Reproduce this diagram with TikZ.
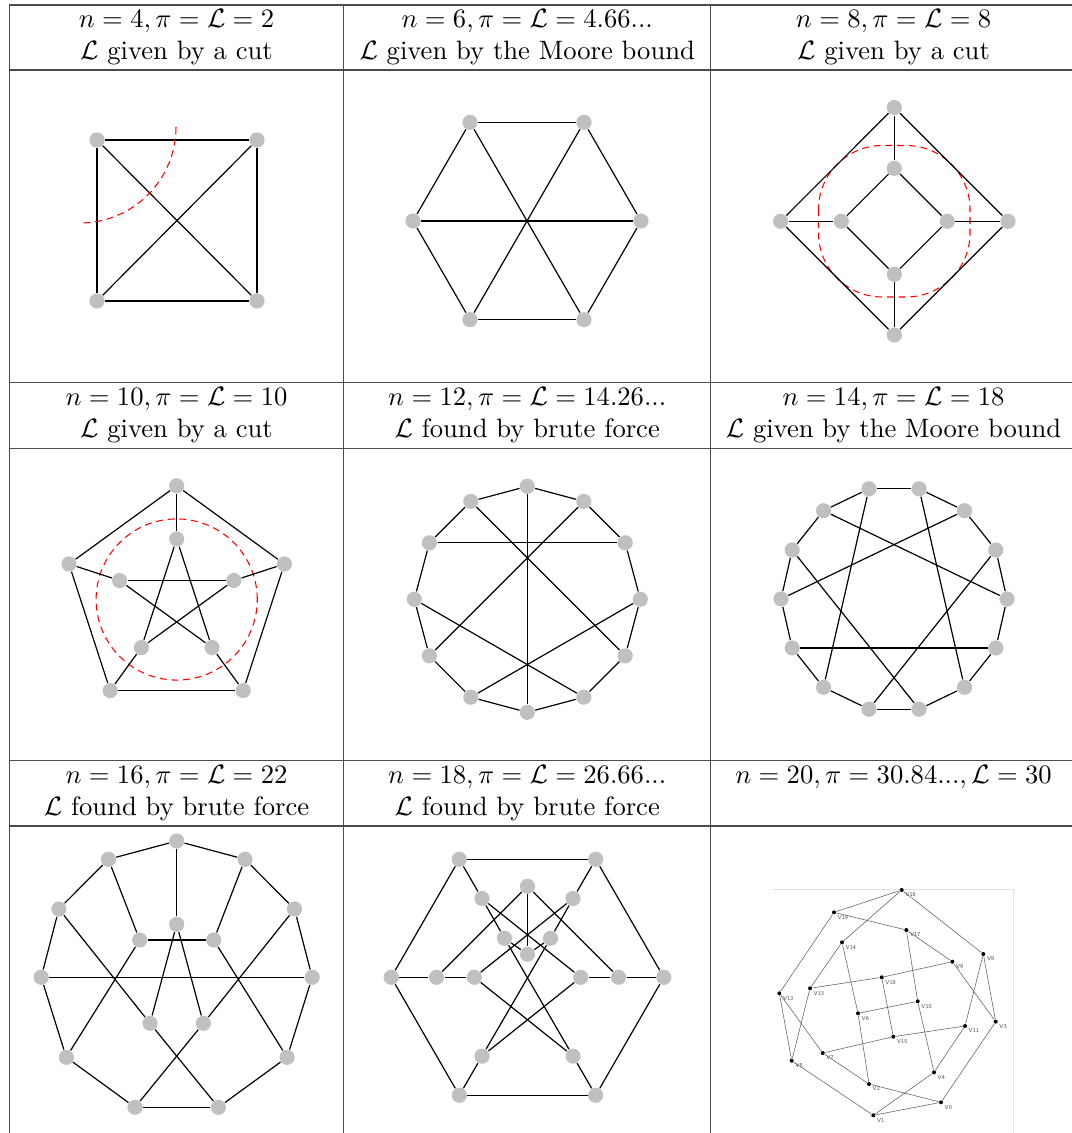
\documentclass[tikz,border=0pt]{standalone}
\usepackage{amsmath,amssymb}
\usepackage{tikz}

\begin{document}
\begin{tikzpicture}[x=0.376pt,y=-0.376pt,
  vtx/.style={circle,fill=vgray,inner sep=0pt,minimum size=5.7pt},
  edge/.style={line width=0.45pt},
  cutline/.style={red,dash pattern=on 2.6pt off 1.8pt,line width=0.4pt},
  rule/.style={black!70,line width=0.45pt},
  head/.style={anchor=base,inner sep=0pt},
  dot/.style={circle,fill=black,inner sep=0pt,minimum size=1.5pt},
  vlab/.style={font=\sffamily\fontsize{2.2}{2.4}\selectfont,text=black!70,inner sep=0pt},
  shotedge/.style={black!60,line width=0.22pt}]
\definecolor{vgray}{HTML}{C0C0C0}
\useasboundingbox (0,0) rectangle (1071,1133);
\foreach \y in {5,70,382.7,448.3,760.7,826} \draw[rule] (9.3,\y) -- (1080,\y);
\foreach \x in {9.3,343.7,710.7} \draw[rule] (\x,5) -- (\x,1140);
\node[head] (h1a) at (176.5,28) {$n=4,\pi=\mathcal{L}=2$};
\node[head] (h1b) at (176.5,60) {$\mathcal{L}$ given by a cut};
\node[head] (h2a) at (527.2,28) {$n=6,\pi=\mathcal{L}=4.66...$};
\node[head] (h2b) at (527.2,60) {$\mathcal{L}$ given by the Moore bound};
\node[head] (h3a) at (893.5,28) {$n=8,\pi=\mathcal{L}=8$};
\node[head] (h3b) at (893.5,60) {$\mathcal{L}$ given by a cut};
\node[head] (h4a) at (176.5,405.5) {$n=10,\pi=\mathcal{L}=10$};
\node[head] (h4b) at (176.5,437.5) {$\mathcal{L}$ given by a cut};
\node[head] (h5a) at (527.2,405.5) {$n=12,\pi=\mathcal{L}=14.26...$};
\node[head] (h5b) at (527.2,437.5) {$\mathcal{L}$ found by brute force};
\node[head] (h6a) at (893.5,405.5) {$n=14,\pi=\mathcal{L}=18$};
\node[head] (h6b) at (893.5,437.5) {$\mathcal{L}$ given by the Moore bound};
\node[head] (h7a) at (176.5,783.5) {$n=16,\pi=\mathcal{L}=22$};
\node[head] (h7b) at (176.5,815.5) {$\mathcal{L}$ found by brute force};
\node[head] (h8a) at (527.2,783.5) {$n=18,\pi=\mathcal{L}=26.66...$};
\node[head] (h8b) at (527.2,815.5) {$\mathcal{L}$ found by brute force};
\node[head] (h9a) at (893.5,783.5) {$n=20,\pi=30.84...,\mathcal{L}=30$};

\foreach \n/\x/\y in {a1/97/140,a2/257/140,a3/257/301,a4/97/301}
  \node[vtx] (\n) at (\x,\y) {};
\foreach \u/\v in {a1/a2,a2/a3,a3/a4,a4/a1,a1/a3,a2/a4} \draw[edge] (\u) -- (\v);
\draw[cutline] (176,127) .. controls (176,180) and (133,223) .. (80,223);

\foreach \n/\x/\y in {b1/470/122.3,b2/584/122.3,b3/641/221,b4/584/319.7,b5/470/319.7,b6/413/221}
  \node[vtx] (\n) at (\x,\y) {};
\foreach \u/\v in {b1/b2,b2/b3,b3/b4,b4/b5,b5/b6,b6/b1,b1/b4,b2/b5,b3/b6} \draw[edge] (\u) -- (\v);

\draw[cutline,rounded corners=24pt] (818.5,145.5) rectangle (970,297);
\foreach \n/\x/\y in {c1/894.3/107.5,c2/1008/221.3,c3/894.3/335,c4/780.6/221.3,
  c5/894.3/168.3,c6/947.3/221.3,c7/894.3/274.3,c8/841.3/221.3}
  \node[vtx] (\n) at (\x,\y) {};
\foreach \u/\v in {c1/c2,c2/c3,c3/c4,c4/c1,c5/c6,c6/c7,c7/c8,c8/c5,c1/c5,c2/c6,c3/c7,c4/c8}
  \draw[edge] (\u) -- (\v);

\draw[cutline] (176.7,599.5) circle[radius=30.3pt];
\foreach \n/\x/\y in {d1/176.7/485.8,d2/284.4/564,d3/243.2/690.6,d4/110.2/690.6,d5/69/564,
  d6/176.7/539,d7/233.8/580.5,d8/212/647.5,d9/141.4/647.5,d10/119.6/580.5}
  \node[vtx] (\n) at (\x,\y) {};
\foreach \u/\v in {d1/d2,d2/d3,d3/d4,d4/d5,d5/d1,d1/d6,d2/d7,d3/d8,d4/d9,d5/d10,
  d6/d8,d8/d10,d10/d7,d7/d9,d9/d6}
  \draw[edge] (\u) -- (\v);

\foreach \i/\x/\y in {0/640.3/599.3,1/625.2/542.8,2/583.8/501.4,3/527.3/486.3,4/470.8/501.4,
  5/429.4/542.8,6/414.3/599.3,7/429.4/655.8,8/470.8/697.2,9/527.3/712.3,10/583.8/697.2,11/625.2/655.8}
  \node[vtx] (e\i) at (\x,\y) {};
\foreach \i in {0,...,11}{
  \pgfmathtruncatemacro\j{mod(\i+1,12)}
  \draw[edge] (e\i) -- (e\j);
}
\foreach \u/\v in {e3/e9,e5/e1,e4/e11,e2/e7,e6/e10,e0/e8} \draw[edge] (\u) -- (\v);

\foreach \i/\x/\y in {0/919.1/488.8,1/868.9/488.8,2/823.5/510.7,3/792.2/550,4/781/599,
  5/792.2/648,6/823.5/687.3,7/868.9/709.2,8/919.1/709.2,9/964.5/687.3,10/995.8/648,
  11/1007/599,12/995.8/550,13/964.5/510.7}
  \node[vtx] (f\i) at (\x,\y) {};
\foreach \i in {0,...,13}{
  \pgfmathtruncatemacro\j{mod(\i+1,14)}
  \draw[edge] (f\i) -- (f\j);
}
\foreach \u/\v in {f1/f6,f0/f9,f2/f11,f13/f4,f3/f8,f12/f7,f5/f10} \draw[edge] (\u) -- (\v);

\foreach \i/\x/\y in {1/176.7/841,2/245/859.3,3/294.5/909,4/312.2/977.3,5/287.1/1057.3,
  6/218.4/1107.3,7/135/1107.3,8/66.3/1057.3,9/41.2/977.3,10/58.9/909,11/108.4/859.3,
  12/176.7/924.3,13/139.7/940,14/213.7/940,15/150/1023.3,16/203.4/1023.3}
  \node[vtx] (g\i) at (\x,\y) {};
\foreach \i in {1,...,11}{
  \pgfmathtruncatemacro\j{mod(\i,11)+1}
  \draw[edge] (g\i) -- (g\j);
}
\foreach \u/\v in {g1/g12,g11/g13,g2/g14,g13/g14,g9/g4,g10/g15,g3/g16,g12/g15,g12/g16,
  g13/g8,g14/g5,g15/g6,g16/g7}
  \draw[edge] (\u) -- (\v);

\foreach \i/\x/\y in {1/459.3/859.3,2/595.7/859.3,3/663.8/977.3,4/595.7/1095.3,5/459.3/1095.3,
  6/391.2/977.3,7/482/898.5,8/573/898.5,9/618.5/977.3,10/573/1056.1,11/482/1056.1,
  12/436.5/977.3,13/527.5/886.3,14/527.5/954.3,15/504.5/938.3,16/550.5/938.3,
  17/474.3/977.3,18/580.7/977.3}
  \node[vtx] (h\i) at (\x,\y) {};
\foreach \u/\v in {h1/h2,h2/h3,h3/h4,h4/h5,h5/h6,h6/h1,h1/h7,h2/h8,h6/h12,h3/h9,h5/h11,h4/h10,
  h12/h13,h9/h13,h13/h14,h7/h15,h8/h16,h7/h18,h8/h17,h15/h14,h16/h14,h15/h10,h16/h11,
  h17/h10,h18/h11,h12/h17,h9/h18}
  \draw[edge] (\u) -- (\v);

\draw[black!12,line width=0.3pt] (773,889.3) -- (1013.3,889.3) -- (1013.3,1140);
\foreach \i/\x/\y in {0/941/1102.3,1/873.3/1115.3,2/869/1084,3/995.7/1021.7,4/934/1072.3,
  5/791.7/1060.7,6/858/1013.3,7/822.7/1053,8/983.3/954,9/952.3/961.7,10/917.7/1001.3,
  11/965/1026,12/779.3/993.3,13/810/988.3,14/842/942.3,15/893.3/1036.7,16/901.7/890,
  17/906.3/930,18/881.7/977.3,19/834/912.3}
  \node[dot,label={[vlab,label distance=0.5pt]-35:V\i}] (v\i) at (\x,\y) {};
\foreach \u/\v in {v16/v19,v16/v14,v16/v8,v19/v17,v19/v12,v17/v9,v17/v10,v10/v4,v14/v13,
  v14/v6,v6/v2,v8/v11,v8/v3,v13/v18,v18/v9,v9/v3,v18/v15,v13/v5,v12/v5,v12/v7,v10/v6,
  v11/v15,v15/v7,v11/v4,v3/v0,v7/v2,v5/v1,v2/v0,v1/v0,v1/v4}
  \draw[shotedge] (\u) -- (\v);
\end{tikzpicture}
\end{document}
